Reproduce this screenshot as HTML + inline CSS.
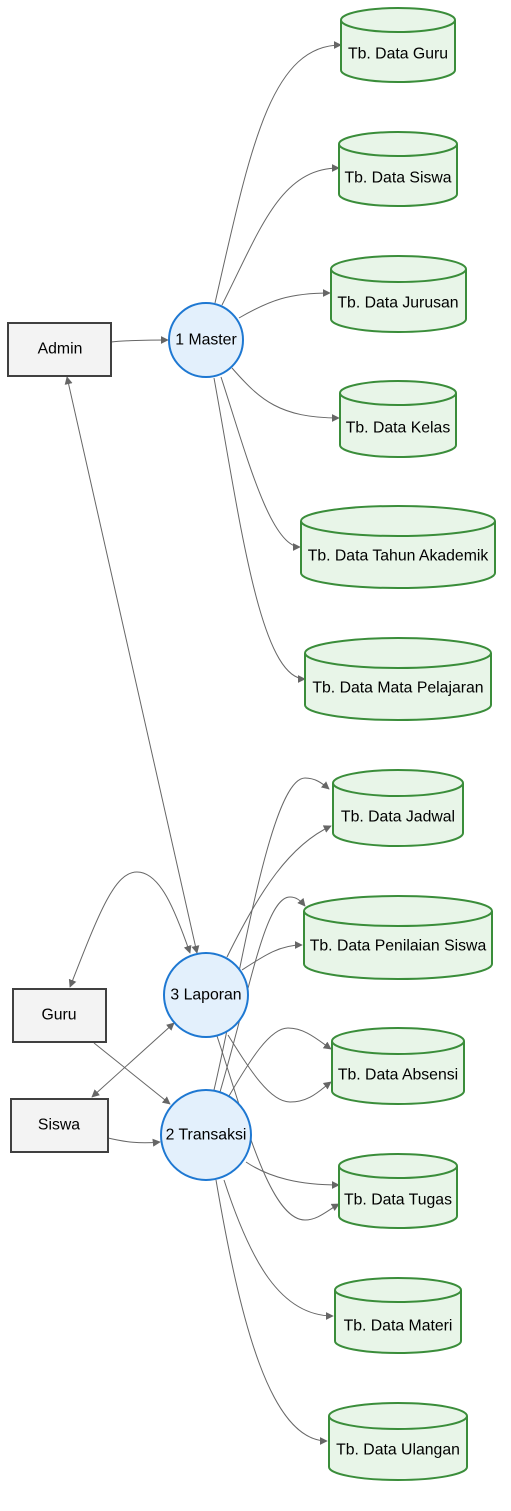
<!DOCTYPE html>
<html><head><meta charset="utf-8"><style>
html,body{margin:0;padding:0;background:#fff;width:511px;height:1511px;overflow:hidden}
text{font-family:"Liberation Sans",sans-serif;font-size:15.8px;fill:#000;text-anchor:middle;dominant-baseline:central}
.e{fill:none;stroke:#666;stroke-width:1}
.c{fill:#e8f5e8;stroke:#3a8d3a;stroke-width:2}
.t{fill:none;stroke:#3a8d3a;stroke-width:2}
.p{fill:#e3f0fc;stroke:#1e78d2;stroke-width:2}
.r{fill:#f3f3f3;stroke:#404040;stroke-width:2}
</style></head><body>
<svg width="511" height="1511" xmlns="http://www.w3.org/2000/svg">
<defs>
<marker id="a" viewBox="0 0 10 10" refX="9" refY="5" markerWidth="8" markerHeight="8" orient="auto-start-reverse" markerUnits="userSpaceOnUse"><path d="M0,0L10,5L0,10z" fill="#666"/></marker>
</defs>
<g marker-end="url(#a)">
<path class="e" d="M215,303 C250,150 270,45 341,45"/>
<path class="e" d="M222,305 C260,230 280,168 339,168"/>
<path class="e" d="M239,318 C270,300 290,293 330,293"/>
<path class="e" d="M232,368 C260,400 280,418 339,418"/>
<path class="e" d="M221,377 C245,450 270,547 300,547"/>
<path class="e" d="M214,378 C240,520 260,679 305,679"/>
<path class="e" d="M111,342 C130,340 150,340 168,340"/>
<path class="e" d="M67,377 L197,953" marker-start="url(#a)"/>
<path class="e" d="M70,987 C100,910 115,872 137,872 C160,872 175,910 190,953" marker-start="url(#a)"/>
<path class="e" d="M92,1097 L174,1023" marker-start="url(#a)"/>
<path class="e" d="M94,1043 L170,1104"/>
<path class="e" d="M108,1138 C125,1142 140,1144 160,1142"/>
<path class="e" d="M227,957 C260,890 290,845 331,826"/>
<path class="e" d="M214,1090 C240,980 270,778 305,778 C315,778 322,783 329,789"/>
<path class="e" d="M242,970 C265,955 280,945 302,945"/>
<path class="e" d="M220,1092 C250,990 265,897 290,897 C296,897 300,900 305,906"/>
<path class="e" d="M229,1096 C250,1060 270,1028 288,1028 C305,1028 318,1040 331,1049"/>
<path class="e" d="M228,1035 C250,1070 270,1102 290,1102 C310,1102 320,1090 331,1082"/>
<path class="e" d="M246,1162 C270,1178 300,1185 339,1185"/>
<path class="e" d="M217,1036 C245,1120 270,1220 305,1220 C318,1220 328,1210 339,1204"/>
<path class="e" d="M224,1180 C250,1260 280,1316 333,1316"/>
<path class="e" d="M216,1180 C240,1320 270,1441 327,1441"/>
</g>
<g>
<path class="c" d="M341,20 a57,12 0 0 1 114,0 v50 a57,12 0 0 1 -114,0z"/><path class="t" d="M341,20 a57,12 0 0 0 114,0"/><text x="398" y="54">Tb. Data Guru</text>
<path class="c" d="M339,144 a59,12 0 0 1 118,0 v50 a59,12 0 0 1 -118,0z"/><path class="t" d="M339,144 a59,12 0 0 0 118,0"/><text x="398" y="178">Tb. Data Siswa</text>
<path class="c" d="M331,269 a67.5,13 0 0 1 135,0 v50 a67.5,13 0 0 1 -135,0z"/><path class="t" d="M331,269 a67.5,13 0 0 0 135,0"/><text x="398" y="303">Tb. Data Jurusan</text>
<path class="c" d="M340,393 a58,12 0 0 1 116,0 v52 a58,12 0 0 1 -116,0z"/><path class="t" d="M340,393 a58,12 0 0 0 116,0"/><text x="398" y="428">Tb. Data Kelas</text>
<path class="c" d="M301,521 a97,15 0 0 1 194,0 v52 a97,15 0 0 1 -194,0z"/><path class="t" d="M301,521 a97,15 0 0 0 194,0"/><text x="398" y="556">Tb. Data Tahun Akademik</text>
<path class="c" d="M305,653 a93,15 0 0 1 186,0 v52 a93,15 0 0 1 -186,0z"/><path class="t" d="M305,653 a93,15 0 0 0 186,0"/><text x="398" y="688">Tb. Data Mata Pelajaran</text>
<path class="c" d="M333,783 a65,13 0 0 1 130,0 v50 a65,13 0 0 1 -130,0z"/><path class="t" d="M333,783 a65,13 0 0 0 130,0"/><text x="398" y="817">Tb. Data Jadwal</text>
<path class="c" d="M304,911 a94,15 0 0 1 188,0 v53 a94,15 0 0 1 -188,0z"/><path class="t" d="M304,911 a94,15 0 0 0 188,0"/><text x="398" y="946">Tb. Data Penilaian Siswa</text>
<path class="c" d="M332,1041 a66,13 0 0 1 132,0 v50 a66,13 0 0 1 -132,0z"/><path class="t" d="M332,1041 a66,13 0 0 0 132,0"/><text x="398" y="1075">Tb. Data Absensi</text>
<path class="c" d="M339,1166 a59,12 0 0 1 118,0 v50 a59,12 0 0 1 -118,0z"/><path class="t" d="M339,1166 a59,12 0 0 0 118,0"/><text x="398" y="1200">Tb. Data Tugas</text>
<path class="c" d="M335,1290 a63,12 0 0 1 126,0 v51 a63,12 0 0 1 -126,0z"/><path class="t" d="M335,1290 a63,12 0 0 0 126,0"/><text x="398" y="1326">Tb. Data Materi</text>
<path class="c" d="M329,1416 a69,13 0 0 1 138,0 v51 a69,13 0 0 1 -138,0z"/><path class="t" d="M329,1416 a69,13 0 0 0 138,0"/><text x="398" y="1450">Tb. Data Ulangan</text>
</g>
<circle class="p" cx="206" cy="340" r="37"/><text x="206" y="340">1 Master</text>
<circle class="p" cx="206" cy="995" r="42"/><text x="206" y="995">3 Laporan</text>
<circle class="p" cx="206" cy="1135" r="45"/><text x="206" y="1135">2 Transaksi</text>
<rect class="r" x="8" y="323" width="103" height="53"/><text x="60" y="349">Admin</text>
<rect class="r" x="13" y="989" width="93" height="53"/><text x="59" y="1015">Guru</text>
<rect class="r" x="11" y="1099" width="97" height="53"/><text x="59" y="1125">Siswa</text>
</svg>
</body></html>
